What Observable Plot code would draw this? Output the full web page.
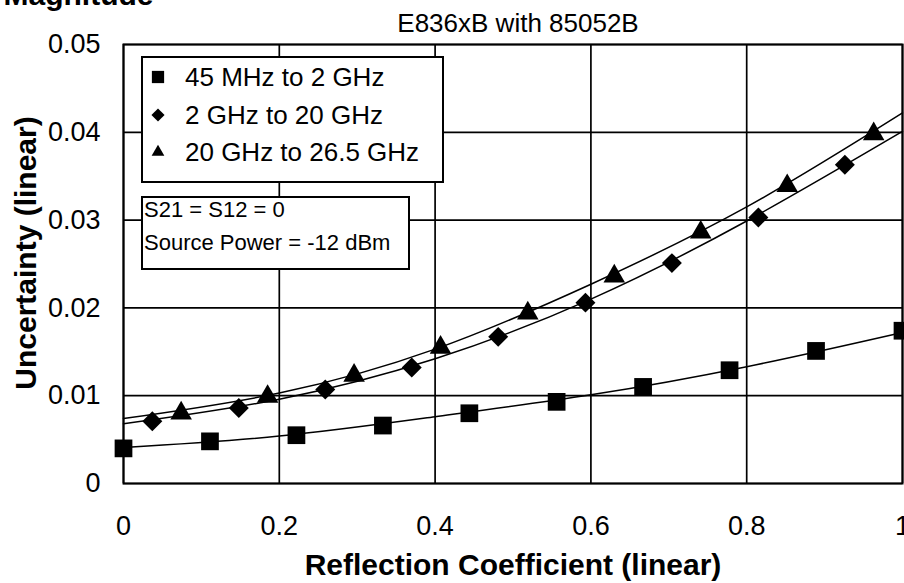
<!DOCTYPE html>
<html>
<head>
<meta charset="utf-8">
<script src="https://cdn.jsdelivr.net/npm/d3@7"></script>
<script src="https://cdn.jsdelivr.net/npm/@observablehq/plot@0.6"></script>
<style>
  body { margin: 0; background: #fff; }
  #wrap { position: relative; width: 904px; height: 583px; overflow: hidden; font-family: "Liberation Sans", Arial, sans-serif; color: #000; }
  #wrap svg.plot { position: absolute; left: 0; top: 0; overflow: visible; }
  .box { position: absolute; box-sizing: border-box; border: 2px solid #000; background: #fff; }
  .lbl { position: absolute; white-space: nowrap; }
  .sym { position: absolute; }
</style>
</head>
<body>
<div id="wrap"></div>
<script>
// ---- data ----
const seriesNames = ["45 MHz to 2 GHz", "2 GHz to 20 GHz", "20 GHz to 26.5 GHz"];

const squareX = [0, 0.111, 0.222, 0.333, 0.444, 0.556, 0.667, 0.778, 0.889, 1.0];
const squareY = [0.0040, 0.0048, 0.0055, 0.0066, 0.0080, 0.0093, 0.0110, 0.0129, 0.0151, 0.0174];

const diamondX = [0.037, 0.148, 0.259, 0.370, 0.481, 0.593, 0.704, 0.815, 0.926];
const diamondY = [0.0071, 0.0086, 0.0107, 0.0132, 0.0167, 0.0206, 0.0251, 0.0303, 0.0363];

const triangleX = [0.074, 0.185, 0.296, 0.407, 0.519, 0.630, 0.741, 0.852, 0.963];
const triangleY = [0.0080, 0.0099, 0.0123, 0.0155, 0.0194, 0.0236, 0.0286, 0.0339, 0.0398];

// trend lines
const fitX = [0, 0.2, 0.4, 0.6, 0.8, 1.0];
const squareFit = [0.0041, 0.0054, 0.0076, 0.0101, 0.0133, 0.0172];
const diamondFit = [0.0068, 0.0096, 0.0142, 0.0210, 0.0299, 0.0401];
const triangleFit = [0.0074, 0.0103, 0.0153, 0.0227, 0.0315, 0.0422];

const xTicks = [0, 0.2, 0.4, 0.6, 0.8, 1];
const yTicks = [0, 0.01, 0.02, 0.03, 0.04, 0.05];

const titleText = "Magnitude";
const subtitleText = "E836xB with 85052B";
const xLabel = "Reflection Coefficient (linear)";
const yLabel = "Uncertainty (linear)";
const noteLines = ["S21 = S12 = 0", "Source Power = -12 dBm"];

// ---- build tables ----
const pts = (xs, ys) => xs.map((x, i) => ({x, y: ys[i]}));
const squares = pts(squareX, squareY);
const diamonds = pts(diamondX, diamondY);
const triangles = pts(triangleX, triangleY);
const squareLine = pts(fitX, squareFit);
const diamondLine = pts(fitX, diamondFit);
const triangleLine = pts(fitX, triangleFit);

const font = "Liberation Sans, Arial, sans-serif";

const chart = Plot.plot({
  width: 904,
  height: 583,
  marginLeft: 123,
  marginRight: 2,
  marginTop: 44,
  marginBottom: 100,
  x: {domain: [0, 1]},
  y: {domain: [0, 0.05]},
  style: {fontFamily: font, background: "white", color: "black", overflow: "visible"},
  marks: [
    Plot.gridX(xTicks, {stroke: "black", strokeOpacity: 1, strokeWidth: 1.7}),
    Plot.gridY(yTicks, {stroke: "black", strokeOpacity: 1, strokeWidth: 1.7}),
    Plot.frame({stroke: "black", strokeWidth: 2}),
    Plot.axisX(xTicks, {tickSize: 0, tickPadding: 32, fontSize: 27, tickFormat: d => String(d), label: null}),
    Plot.axisY(yTicks, {tickSize: 0, tickPadding: 23, fontSize: 27, tickFormat: d => String(d), label: null}),
    Plot.line(squareLine, {x: "x", y: "y", curve: "natural", stroke: "black", strokeWidth: 1.5}),
    Plot.line(diamondLine, {x: "x", y: "y", curve: "natural", stroke: "black", strokeWidth: 1.5}),
    Plot.line(triangleLine, {x: "x", y: "y", curve: "natural", stroke: "black", strokeWidth: 1.5}),
    Plot.dot(squares, {x: "x", y: "y", symbol: "square", r: 10, fill: "black", stroke: "none"}),
    Plot.dot(diamonds, {x: "x", y: "y", symbol: "diamond2", r: 9, fill: "black", stroke: "none"}),
    Plot.dot(triangles, {x: "x", y: "y", symbol: "triangle", r: 8, fill: "black", stroke: "none"}),
    Plot.text([xLabel], {frameAnchor: "bottom", textAnchor: "middle", lineAnchor: "middle", dy: 82, fontSize: 30, fontWeight: "bold", fill: "black"}),
    Plot.text([yLabel], {frameAnchor: "left", textAnchor: "middle", lineAnchor: "middle", dx: -97, dy: -11, rotate: -90, fontSize: 30, fontWeight: "bold", fill: "black"}),
    Plot.text([titleText], {frameAnchor: "top-left", textAnchor: "start", lineAnchor: "middle", dx: -120, dy: -49, fontSize: 30, fontWeight: "bold", fill: "black"}),
    Plot.text([subtitleText], {frameAnchor: "top", textAnchor: "middle", lineAnchor: "middle", dx: 5, dy: -21, fontSize: 26, fill: "black"})
  ]
});

const wrap = document.getElementById("wrap");
wrap.appendChild(chart);

// ---- legend box (HTML overlay) ----
function el(tag, cls, style, html) {
  const e = document.createElement(tag);
  if (cls) e.className = cls;
  Object.assign(e.style, style);
  if (html != null) e.innerHTML = html;
  wrap.appendChild(e);
  return e;
}
el("div", "box", {left: "141px", top: "56px", width: "303px", height: "127px"});
const symbolPaths = [
  d3.symbol(d3.symbolSquare, 150)(),
  d3.symbol(d3.symbolDiamond2, 110)(),
  d3.symbol(d3.symbolTriangle, 70)()
];
const rowCenters = [77, 115, 152];
seriesNames.forEach((name, i) => {
  const c = rowCenters[i];
  el("div", "sym", {left: (158 - 10) + "px", top: (c - 10) + "px", width: "20px", height: "20px"},
    `<svg width="20" height="20"><path transform="translate(10,10)" d="${symbolPaths[i]}" fill="black"/></svg>`);
  el("div", "lbl", {left: "185px", top: (c - 15) + "px", fontSize: "26px", lineHeight: "30px"}, name);
});

// ---- note box ----
el("div", "box", {left: "141px", top: "196px", width: "269px", height: "74px"});
const noteCenters = [210, 243];
noteLines.forEach((t, i) => {
  el("div", "lbl", {left: "144px", top: (noteCenters[i] - 13) + "px", fontSize: "22px", lineHeight: "26px"}, t);
});
</script>
</body>
</html>
